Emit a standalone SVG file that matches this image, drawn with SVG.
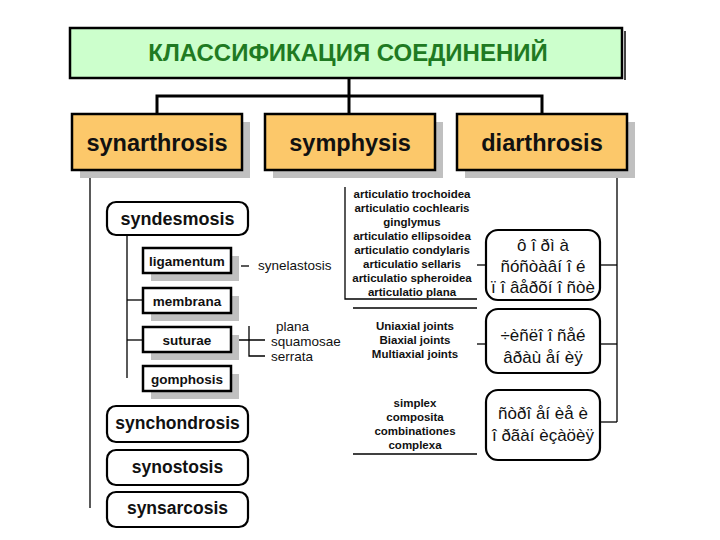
<svg xmlns="http://www.w3.org/2000/svg" width="720" height="540" viewBox="0 0 720 540">
<style>
.conn{stroke:#000;stroke-width:1.3;fill:none}
.thick{stroke:#000;stroke-width:3;fill:none}
.shadow{fill:#c0c0c0}
.orange{fill:#fcc86a;stroke:#000;stroke-width:2.5}
.small{fill:#fff;stroke:#000;stroke-width:2.5}
.round{fill:#fff;stroke:#000;stroke-width:2.2}
text{font-family:"Liberation Sans",Arial,sans-serif;fill:#111}
.title{font-size:24px;font-weight:bold;text-anchor:middle;fill:#1f7a22}
.t1{font-size:23.5px;font-weight:bold;text-anchor:middle}
.t2{font-size:13.5px;font-weight:bold;text-anchor:middle}
.t3{font-size:17.5px;font-weight:bold;text-anchor:middle}
.lst{font-size:11.5px;font-weight:bold;text-anchor:middle}
.reg{font-size:13.5px}
.enc{font-size:17px;text-anchor:middle}
</style>
<rect width="720" height="540" fill="#fff"/>

<g id="title">
<line x1="625" y1="31" x2="625" y2="80" stroke="#444" stroke-width="2"/>
<rect x="70" y="28" width="552" height="50" fill="#ccffcc" stroke="#000" stroke-width="2.5"/>
<text class="title" x="348" y="61">КЛАССИФИКАЦИЯ СОЕДИНЕНИЙ</text>
</g>

<g id="connectors">
<polyline class="thick" points="349,78 349,96"/>
<polyline class="thick" points="157,114 157,96 542,96 542,114"/>
<line class="thick" x1="349" y1="96" x2="349" y2="114"/>
<line class="conn" x1="90" y1="171" x2="90" y2="508"/>
<line class="conn" x1="617" y1="171" x2="617" y2="422"/>
<line class="conn" x1="127" y1="235" x2="127" y2="378"/>
<line class="conn" x1="127" y1="300" x2="143" y2="300"/>
<line class="conn" x1="127" y1="340" x2="143" y2="340"/>
<line class="conn" x1="241" y1="266" x2="249" y2="266"/>
<line class="conn" x1="231" y1="340" x2="265" y2="340"/>
<polyline class="conn" points="249,326 249,356 265,356"/>
<polyline class="conn" points="345,187 345,299 477,299"/>
<line class="conn" x1="353" y1="308" x2="477" y2="308"/>
<line class="conn" x1="353" y1="454" x2="477" y2="454"/>
<line class="conn" x1="477" y1="265" x2="486" y2="265"/>
<line class="conn" x1="477" y1="344" x2="486" y2="344"/>
<line class="conn" x1="600" y1="265" x2="617" y2="265"/>
<line class="conn" x1="600" y1="344" x2="617" y2="344"/>
<line class="conn" x1="600" y1="422" x2="617" y2="422"/>
</g>

<g id="synarthrosis">
<rect class="shadow" x="80" y="122" width="170" height="56"/>
<rect class="orange" x="72" y="114" width="170" height="56"/>
<text class="t1" x="157" y="151">synarthrosis</text>
</g>
<g id="symphysis">
<rect class="shadow" x="273" y="122" width="170" height="56"/>
<rect class="orange" x="265" y="114" width="170" height="56"/>
<text class="t1" x="350" y="151">symphysis</text>
</g>
<g id="diarthrosis">
<rect class="shadow" x="465" y="122" width="170" height="56"/>
<rect class="orange" x="457" y="114" width="170" height="56"/>
<text class="t1" x="542" y="151">diarthrosis</text>
</g>

<g id="syndesmosis">
<rect class="round" x="107" y="202" width="141" height="33" rx="9"/>
<text class="t3" x="177.5" y="225" style="font-size:18px">syndesmosis</text>
</g>
<g id="ligamentum">
<rect class="shadow" x="151" y="256" width="88" height="25"/>
<rect class="small" x="143" y="248" width="88" height="25"/>
<text class="t2" x="187" y="265.5">ligamentum</text>
</g>
<g id="synelastosis">
<text class="reg" x="258" y="270">synelastosis</text>
</g>
<g id="membrana">
<rect class="shadow" x="151" y="296" width="88" height="25"/>
<rect class="small" x="143" y="288" width="88" height="25"/>
<text class="t2" x="187" y="305.5">membrana</text>
</g>
<g id="suturae">
<rect class="shadow" x="151" y="335" width="88" height="25"/>
<rect class="small" x="143" y="327" width="88" height="25"/>
<text class="t2" x="187" y="344.5">suturae</text>
</g>
<g id="suturae-types">
<text class="reg" x="276" y="331">plana</text>
<text class="reg" x="271" y="346">squamosae</text>
<text class="reg" x="271" y="361">serrata</text>
</g>
<g id="gomphosis">
<rect class="shadow" x="151" y="374" width="88" height="25"/>
<rect class="small" x="143" y="366" width="88" height="25"/>
<text class="t2" x="187" y="383.5">gomphosis</text>
</g>
<g id="synchondrosis">
<rect class="round" x="107" y="406" width="141" height="36" rx="9"/>
<text class="t3" x="177.5" y="428.5">synchondrosis</text>
</g>
<g id="synostosis">
<rect class="round" x="107" y="450" width="141" height="35" rx="9"/>
<text class="t3" x="177.5" y="473">synostosis</text>
</g>
<g id="synsarcosis">
<rect class="round" x="107" y="492" width="141" height="35" rx="9"/>
<text class="t3" x="177.5" y="514">synsarcosis</text>
</g>

<g id="articulations">
<text class="lst" x="412" y="198">articulatio trochoidea</text>
<text class="lst" x="412" y="212">articulatio cochlearis</text>
<text class="lst" x="412" y="226">ginglymus</text>
<text class="lst" x="412" y="240">articulatio ellipsoidea</text>
<text class="lst" x="412" y="254">articulatio condylaris</text>
<text class="lst" x="412" y="268">articulatio sellaris</text>
<text class="lst" x="412" y="282">articulatio spheroidea</text>
<text class="lst" x="412" y="296">articulatio plana</text>
</g>
<g id="axes">
<text class="lst" x="415" y="330">Uniaxial joints</text>
<text class="lst" x="415" y="344">Biaxial joints</text>
<text class="lst" x="415" y="358">Multiaxial joints</text>
</g>
<g id="structure">
<text class="lst" x="415" y="407">simplex</text>
<text class="lst" x="415" y="421">composita</text>
<text class="lst" x="415" y="435">combinationes</text>
<text class="lst" x="415" y="449">complexa</text>
</g>

<g id="form-box">
<rect class="round" x="486" y="230" width="114" height="70" rx="12"/>
<text class="enc" x="543" y="251">ô î ðì à</text>
<text class="enc" x="543" y="272">ñóñòàâí î é</text>
<text class="enc" x="543" y="293">ï î âåðõí î ñòè</text>
</g>
<g id="axes-box">
<rect class="round" x="486" y="309" width="114" height="64" rx="12"/>
<text class="enc" x="543" y="341">÷èñëî  î ñåé</text>
<text class="enc" x="543" y="363">âðàù åí èÿ</text>
</g>
<g id="structure-box">
<rect class="round" x="486" y="390" width="114" height="70" rx="12"/>
<text class="enc" x="543" y="419">ñòðî åí èå è</text>
<text class="enc" x="543" y="441">î ðãàí èçàöèÿ</text>
</g>
</svg>
